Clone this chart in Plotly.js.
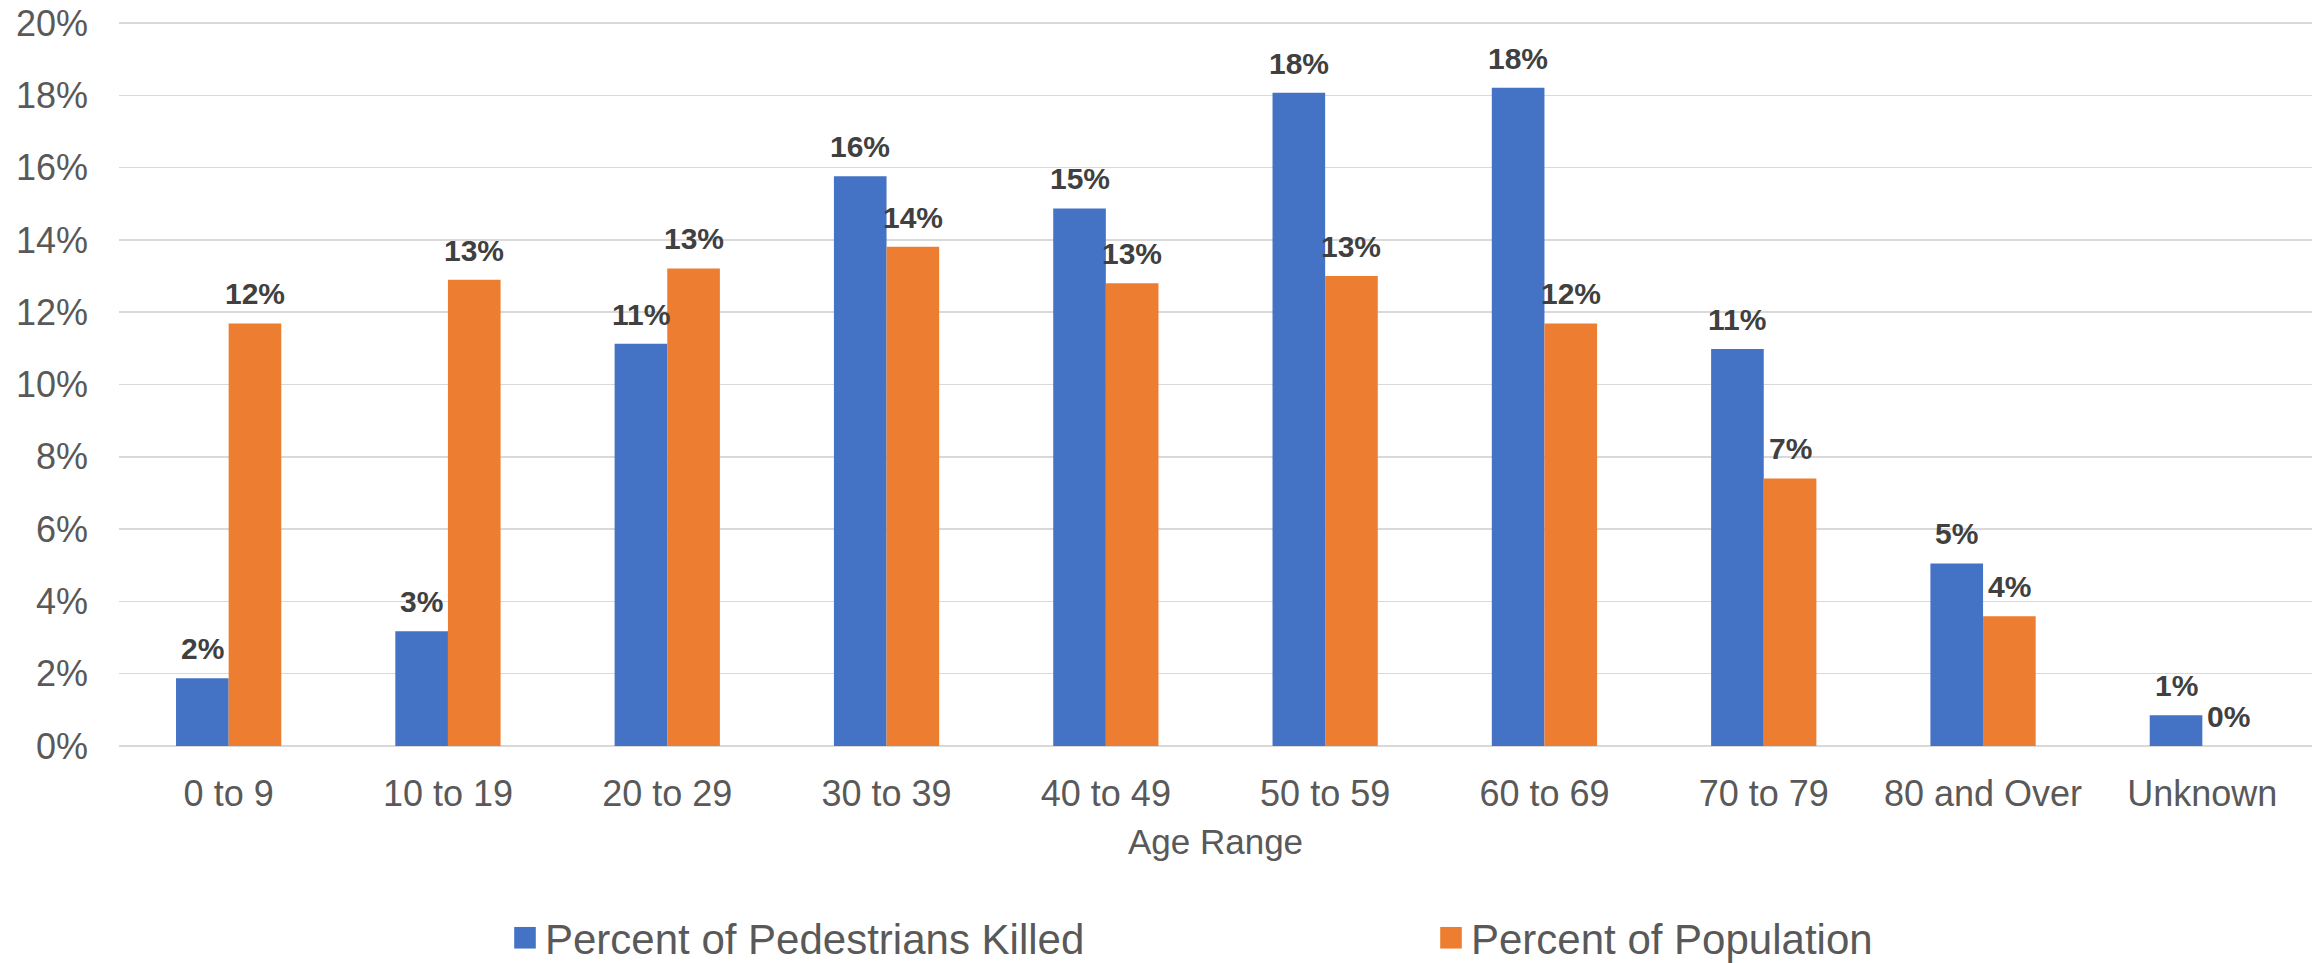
<!DOCTYPE html>
<html>
<head>
<meta charset="utf-8">
<script src="https://cdn.plot.ly/plotly-3.0.1.min.js"></script>
<style>
  html, body { margin: 0; padding: 0; background: #ffffff; }
  #chart { width: 2320px; height: 963px; }
</style>
</head>
<body>
<div id="chart"></div>
<script>
// ---- data ----
var categories = ["0 to 9", "10 to 19", "20 to 29", "30 to 39", "40 to 49",
                  "50 to 59", "60 to 69", "70 to 79", "80 and Over", "Unknown"];
var pedestriansKilled = [1.87, 3.17, 11.13, 15.76, 14.87, 18.07, 18.21, 10.98, 5.05, 0.85];
var population = [11.69, 12.90, 13.21, 13.81, 12.80, 13.00, 11.69, 7.40, 3.59, 0.0];
var seriesNames = ["Percent of Pedestrians Killed", "Percent of Population"];
var yTickVals = [0, 2, 4, 6, 8, 10, 12, 14, 16, 18, 20];
var yTickText = yTickVals.map(function (v) { return v + "%"; });
var xTitle = "Age Range";

// ---- style ----
var FONT = "Liberation Sans, Arial, Helvetica, sans-serif";
var BLUE = "#4472C4";
var ORANGE = "#ED7D31";
var LABEL_SHIFT = 26.3;

var traces = [
  { type: "bar", name: seriesNames[0], x: categories, y: pedestriansKilled,
    marker: { color: BLUE }, legend: "legend" },
  { type: "bar", name: seriesNames[1], x: categories, y: population,
    marker: { color: ORANGE }, legend: "legend2" }
];

var annotations = [];
[pedestriansKilled, population].forEach(function (arr, si) {
  arr.forEach(function (v, i) {
    annotations.push({
      x: categories[i], y: v, xref: "x", yref: "y",
      xshift: si === 0 ? -LABEL_SHIFT : LABEL_SHIFT, yshift: 11,
      yanchor: "bottom", xanchor: "center", showarrow: false,
      text: Math.round(v) + "%",
      font: { family: FONT, size: 30, color: "#404040", weight: "bold" }
    });
  });
});

function legendAt(xFrac) {
  return {
    orientation: "h", xref: "container", yref: "container",
    x: xFrac, xanchor: "left", y: 0.026, yanchor: "middle",
    font: { family: FONT, size: 42, color: "#595959" },
    bgcolor: "rgba(0,0,0,0)", borderwidth: 0
  };
}

var layout = {
  width: 2320, height: 963,
  margin: { l: 119, r: 8, t: 22, b: 216, pad: 0 },
  paper_bgcolor: "#ffffff", plot_bgcolor: "#ffffff",
  barmode: "group", bargap: 0.52, bargroupgap: 0,
  font: { family: FONT, color: "#595959" },
  xaxis: {
    type: "category", showgrid: false, zeroline: false, showline: false,
    ticks: "", tickfont: { family: FONT, size: 36, color: "#595959" },
    ticklabelstandoff: 22,
    title: { text: xTitle, font: { family: FONT, size: 35, color: "#595959" }, standoff: 16 }
  },
  yaxis: {
    range: [-0.03, 20.03], tickvals: yTickVals, ticktext: yTickText,
    showgrid: true, gridcolor: "#D9D9D9", gridwidth: 1.5,
    zeroline: false, showline: false, ticks: "",
    tickfont: { family: FONT, size: 36, color: "#595959" },
    ticklabelstandoff: 30
  },
  showlegend: true,
  legend: legendAt(505 / 2320),
  legend2: legendAt(1431 / 2320),
  annotations: annotations
};

Plotly.newPlot("chart", traces, layout, { staticPlot: true, displayModeBar: false }).then(function () {
  document.querySelectorAll(".legendpoints path").forEach(function (p) {
    var t = p.getAttribute("transform") || "";
    p.setAttribute("transform", t + " scale(1.8)");
  });
});
</script>
</body>
</html>
